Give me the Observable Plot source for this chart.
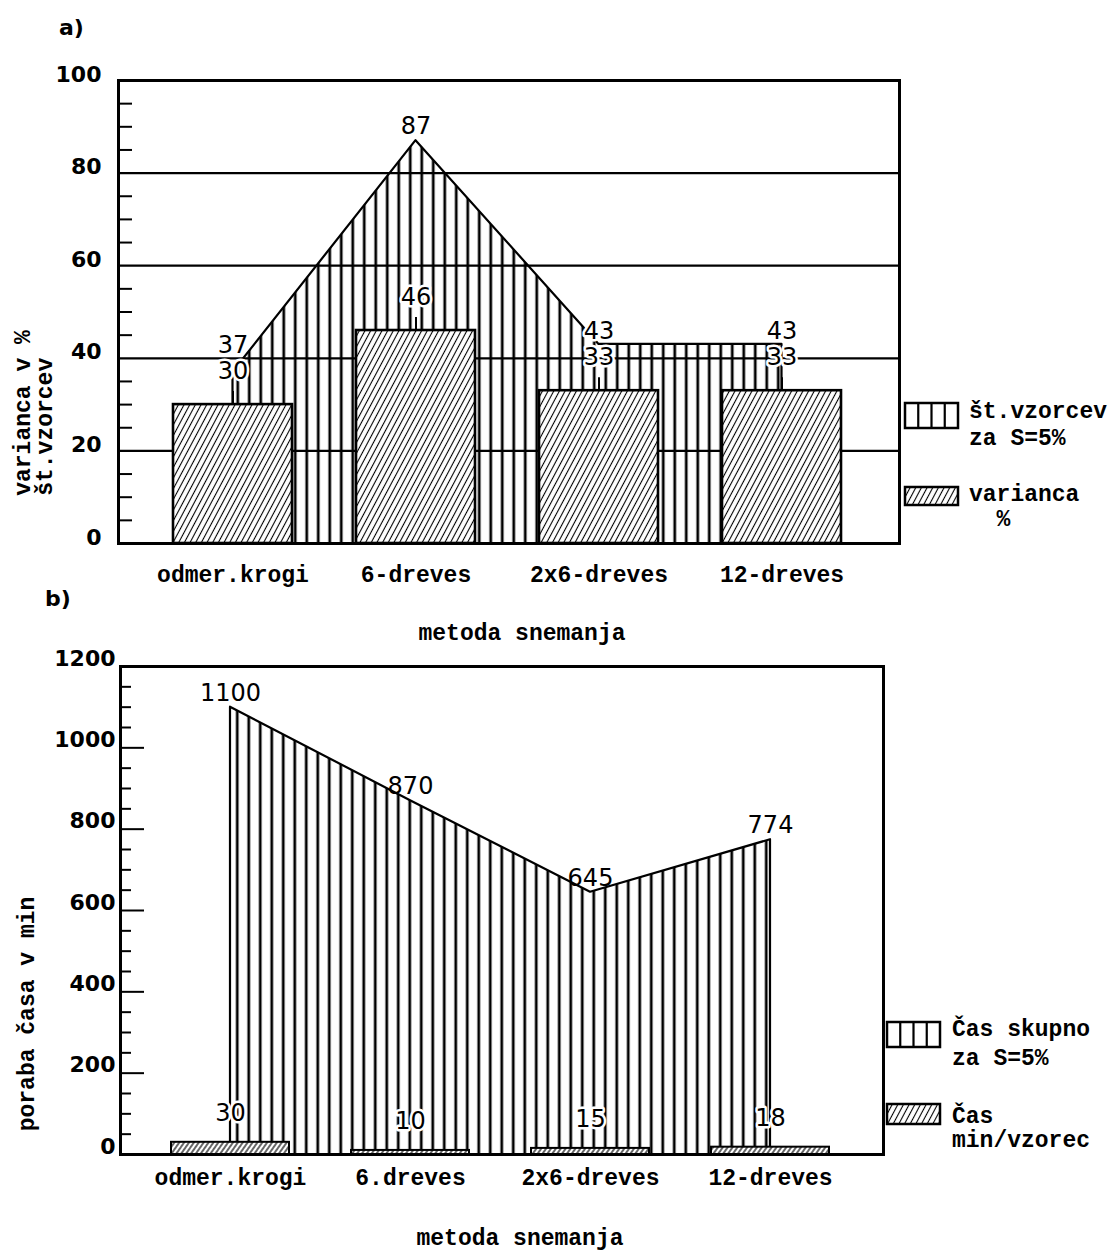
<!DOCTYPE html>
<html>
<head>
<meta charset="utf-8">
<script src="https://cdn.jsdelivr.net/npm/d3@7"></script>
<script src="https://cdn.jsdelivr.net/npm/@observablehq/plot@0.6"></script>
<style>
  body { margin: 0; background: #fff; }
  #page { position: relative; width: 1113px; height: 1254px; overflow: hidden; background: #fff; }
  .t { position: absolute; font-family: "Liberation Mono", monospace; font-weight: bold; font-size: 23px;
       color: #000; white-space: pre; line-height: 1; }
  .n { position: absolute; font-family: "DejaVu Sans", sans-serif; font-weight: bold; font-size: 22px; color: #000; line-height: 1; }
  .sw { position: absolute; overflow: visible; }
</style>
</head>
<body>
<svg width="0" height="0" style="position:absolute">
  <defs>
    <pattern id="vstripe" patternUnits="userSpaceOnUse" width="11.5" height="20">
      <line x1="5.75" y1="0" x2="5.75" y2="20" stroke="#000" stroke-width="2.7"/>
    </pattern>
    <pattern id="hatch" patternUnits="userSpaceOnUse" width="5" height="20" patternTransform="rotate(28)">
      <line x1="2.5" y1="0" x2="2.5" y2="20" stroke="#000" stroke-width="1.1"/>
    </pattern>
    <pattern id="hatchB" patternUnits="userSpaceOnUse" width="4" height="20" patternTransform="rotate(35)">
      <line x1="2" y1="0" x2="2" y2="20" stroke="#000" stroke-width="1.2"/>
    </pattern>
  </defs>
</svg>
<div id="page"></div>
<script>
// ---------- data ----------
const methodsA = ["odmer.krogi", "6-dreves", "2x6-dreves", "12-dreves"];
const samplesA = [37, 87, 43, 43];     // št.vzorcev za S=5%
const varianceA = [30, 46, 33, 33];    // varianca %
const yTicksA = [0, 20, 40, 60, 80, 100];
const gridA = [20, 40, 60, 80];
const minorA = [5, 10, 15, 25, 30, 35, 45, 50, 55, 65, 70, 75, 85, 90, 95];

const methodsB = ["odmer.krogi", "6.dreves", "2x6-dreves", "12-dreves"];
const timeTotalB = [1100, 870, 645, 774];   // Čas skupno za S=5%
const timePerSampleB = [30, 10, 15, 18];    // Čas min/vzorec
const yTicksB = [0, 200, 400, 600, 800, 1000, 1200];
const minorB = [50, 100, 150, 250, 300, 350, 450, 500, 550, 650, 700, 750, 850, 900, 950, 1050, 1100, 1150];

const page = document.getElementById("page");
const MONO = "Liberation Mono";
const SANS = "DejaVu Sans";

function place(el, top) {
  el.style.position = "absolute";
  el.style.left = "0px";
  el.style.top = top + "px";
  page.appendChild(el);
}
function addDiv(cls, text, css) {
  const d = document.createElement("div");
  d.className = cls;
  d.textContent = text;
  Object.assign(d.style, css);
  page.appendChild(d);
  return d;
}
function addSwatch(left, top, w, h, kind) {
  const ns = "http://www.w3.org/2000/svg";
  const s = document.createElementNS(ns, "svg");
  s.setAttribute("class", "sw");
  s.setAttribute("width", w + 4);
  s.setAttribute("height", h + 4);
  s.style.left = (left - 2) + "px";
  s.style.top = (top - 2) + "px";
  let inner = "";
  if (kind === "stripe") {
    inner += `<rect x="2" y="2" width="${w}" height="${h}" fill="#fff" stroke="#000" stroke-width="2.5"/>`;
    for (let k = 1; k < 4; k++) {
      const x = 2 + (w * k) / 4;
      inner += `<line x1="${x}" y1="2" x2="${x}" y2="${2 + h}" stroke="#000" stroke-width="2.2"/>`;
    }
  } else {
    inner += `<rect x="2" y="2" width="${w}" height="${h}" fill="#fff"/>`;
    inner += `<rect x="2" y="2" width="${w}" height="${h}" fill="url(#hatch)" stroke="#000" stroke-width="2.5"/>`;
  }
  s.innerHTML = inner;
  page.appendChild(s);
}

const labelFont = {fontFamily: SANS, fontSize: 24, fill: "#000"};
const halo = {stroke: "#fff", strokeWidth: 5, paintOrder: "stroke"};

// ---------- panel a ----------
const dataA = methodsA.map((m, i) => ({m, s: samplesA[i], v: varianceA[i], i}));
const frameWA = 1113 - 118 - 214;

const plotA = Plot.plot({
  width: 1113,
  height: 600,
  marginTop: 80,
  marginBottom: 57,
  marginLeft: 118,
  marginRight: 214,
  style: {fontFamily: SANS, fontSize: "22px", color: "#000", background: "transparent"},
  x: {type: "band", domain: methodsA, insetLeft: 22.5, insetRight: 26.5, paddingInner: 0.35, paddingOuter: 0.175, label: null},
  y: {domain: [0, 100], label: null},
  marks: [
    Plot.ruleY(gridA, {stroke: "#000", strokeWidth: 2.2}),
    Plot.ruleY(minorA, {stroke: "#000", strokeWidth: 2, insetRight: frameWA - 14}),
    Plot.areaY(dataA, {x: "m", y: "s", fill: "url(#vstripe)", stroke: "#000", strokeWidth: 2.2}),
    Plot.barY(dataA, {x: "m", y: "v", fill: "#fff"}),
    Plot.barY(dataA, {x: "m", y: "v", fill: "url(#hatch)", stroke: "#000", strokeWidth: 2.6}),
    Plot.ruleX(dataA, {x: "m", y1: "v", y2: "v", insetBottom: 13, stroke: "#000", strokeWidth: 2}),
    // bar value labels
    Plot.text(dataA, {x: "m", y: "v", text: d => String(d.v), dy: -33, lineAnchor: "middle", ...labelFont, ...halo}),
    // sample-count labels stacked above the bar labels
    Plot.text(dataA.filter(d => d.i !== 1), {x: "m", y: "v", text: d => String(d.s), dy: -59, lineAnchor: "middle", ...labelFont, ...halo}),
    // peak label
    Plot.text(dataA.filter(d => d.i === 1), {x: "m", y: "s", text: d => String(d.s), dy: -14, lineAnchor: "middle", ...labelFont}),
    Plot.frame({stroke: "#000", strokeWidth: 3}),
    Plot.axisX({tickSize: 0, tickPadding: 22, fontFamily: MONO, fontWeight: "bold", fontSize: 23, label: null}),
    Plot.axisY({ticks: yTicksA, tickFormat: d => String(d), tickSize: 0, tickPadding: 17, dy: -6,
      fontFamily: SANS, fontWeight: "bold", fontSize: 22, label: null})
  ]
});
place(plotA, 0);

// ---------- panel b ----------
const dataB = methodsB.map((m, i) => ({m, t: timeTotalB[i], p: timePerSampleB[i], i}));
const frameWB = 1113 - 120 - 230;

const plotB = Plot.plot({
  width: 1113,
  height: 654,
  marginTop: 66,
  marginBottom: 100,
  marginLeft: 120,
  marginRight: 230,
  style: {fontFamily: SANS, fontSize: "22px", color: "#000", background: "transparent"},
  x: {type: "band", domain: methodsB, insetLeft: 20, insetRight: 23, paddingInner: 0.345, paddingOuter: 0.1725, label: null},
  y: {domain: [0, 1200], label: null},
  marks: [
    Plot.ruleY(minorB, {stroke: "#000", strokeWidth: 2, insetRight: frameWB - 11}),
    Plot.ruleY(yTicksB, {stroke: "#000", strokeWidth: 2, insetRight: frameWB - 24}),
    Plot.areaY(dataB, {x: "m", y: "t", fill: "url(#vstripe)", stroke: "#000", strokeWidth: 2.2}),
    Plot.barY(dataB, {x: "m", y: "p", fill: "#fff"}),
    Plot.barY(dataB, {x: "m", y: "p", fill: "url(#hatchB)", stroke: "#000", strokeWidth: 2}),
    Plot.text(dataB, {x: "m", y: "t", text: d => String(d.t), dy: -14, lineAnchor: "middle", ...labelFont}),
    Plot.text(dataB, {x: "m", y: "p", text: d => String(d.p), dy: -29, lineAnchor: "middle", ...labelFont, ...halo}),
    Plot.frame({stroke: "#000", strokeWidth: 3}),
    Plot.axisX({tickSize: 0, tickPadding: 14, fontFamily: MONO, fontWeight: "bold", fontSize: 23, label: null}),
    Plot.axisY({ticks: yTicksB, tickFormat: d => String(d), tickSize: 0, tickPadding: 5, dy: -8,
      fontFamily: SANS, fontWeight: "bold", fontSize: 22, label: null})
  ]
});
place(plotB, 600);

// ---------- annotations ----------
addDiv("n", "a)", {left: "59px", top: "17px"});
addDiv("n", "b)", {left: "45px", top: "588px"});
addDiv("t", "metoda snemanja", {left: "522px", top: "634px", transform: "translate(-50%,-50%)"});
addDiv("t", "metoda snemanja", {left: "520px", top: "1239px", transform: "translate(-50%,-50%)"});

// y titles (rotated)
addDiv("t", "varianca v %\nšt.vzorcev", {left: "35px", top: "413px", lineHeight: "22px", textAlign: "left",
  transform: "translate(-50%,-50%) rotate(-90deg)"});
addDiv("t", "poraba časa v min", {left: "28px", top: "1014px", transform: "translate(-50%,-50%) rotate(-90deg)"});

// legend a
addSwatch(905, 403, 53, 25, "stripe");
addDiv("t", "št.vzorcev\nza S=5%", {left: "969px", top: "399px", lineHeight: "27px"});
addSwatch(905, 487, 53, 18, "hatch");
addDiv("t", "varianca\n  %", {left: "969px", top: "483px", lineHeight: "25px"});

// legend b
addSwatch(887, 1022, 53, 25, "stripe");
addDiv("t", "Čas skupno\nza S=5%", {left: "952px", top: "1016px", lineHeight: "29px"});
addSwatch(887, 1104, 53, 20, "hatch");
addDiv("t", "Čas\nmin/vzorec", {left: "952px", top: "1105px", lineHeight: "24px"});
</script>
</body>
</html>
